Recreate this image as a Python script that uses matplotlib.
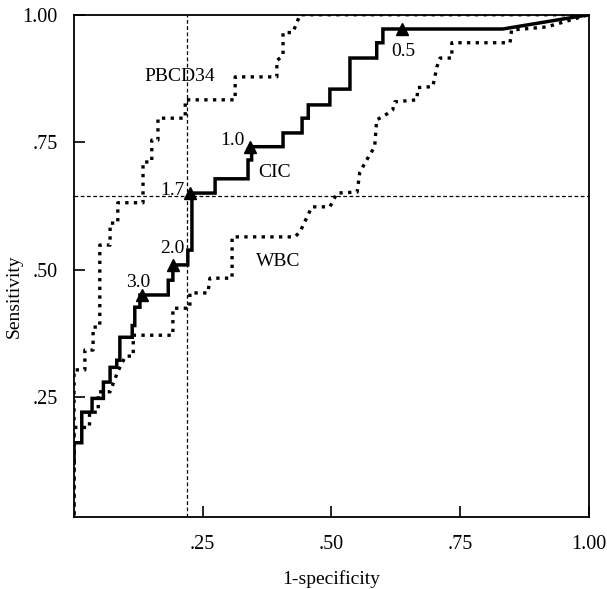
import numpy as np
import matplotlib
matplotlib.use("Agg")
import matplotlib.pyplot as plt

plt.rcParams['font.family'] = ['Liberation Serif', 'DejaVu Serif']

# Curvas ROC (1-especificidade, sensibilidade).
cic_x = [0, 0, 0.015, 0.015, 0.035, 0.035, 0.057, 0.057, 0.07, 0.07, 0.083, 0.083,
         0.089, 0.089, 0.113, 0.113, 0.118, 0.118, 0.128, 0.128, 0.183, 0.183,
         0.192, 0.192, 0.221, 0.221, 0.229, 0.229, 0.274, 0.274, 0.338, 0.338,
         0.345, 0.345, 0.406, 0.406, 0.443, 0.443, 0.455, 0.455, 0.497, 0.497,
         0.536, 0.536, 0.588, 0.588, 0.600, 0.600, 0.833, 1.0]
cic_y = [0.12, 0.16, 0.16, 0.22, 0.22, 0.247, 0.247, 0.279, 0.279, 0.308, 0.308, 0.322,
         0.322, 0.367, 0.367, 0.39, 0.39, 0.426, 0.426, 0.45, 0.45, 0.479,
         0.479, 0.509, 0.509, 0.538, 0.538, 0.65, 0.65, 0.678, 0.678, 0.715,
         0.715, 0.741, 0.741, 0.768, 0.768, 0.797, 0.797, 0.823, 0.823, 0.854,
         0.854, 0.915, 0.915, 0.945, 0.945, 0.972, 0.972, 1.0]

pbcd_x = [0, 0, 0.021, 0.021, 0.037, 0.037, 0.05, 0.05, 0.07, 0.07, 0.085, 0.085,
          0.134, 0.134, 0.151, 0.151, 0.163, 0.163, 0.216, 0.216, 0.313, 0.313,
          0.394, 0.394, 0.406, 0.406, 0.425, 0.439, 1.0]
pbcd_y = [0.0, 0.303, 0.303, 0.342, 0.342, 0.387, 0.387, 0.548, 0.548, 0.591, 0.591, 0.631,
          0.631, 0.711, 0.711, 0.754, 0.754, 0.797, 0.797, 0.833, 0.833, 0.878,
          0.878, 0.91, 0.92, 0.965, 0.965, 1.0, 1.0]

wbc_x = [0, 0, 0.03, 0.03, 0.047, 0.047, 0.07, 0.085, 0.1, 0.115, 0.115, 0.192,
         0.192, 0.225, 0.225, 0.26, 0.264, 0.307, 0.307, 0.429, 0.439, 0.462,
         0.497, 0.511, 0.55, 0.555, 0.565, 0.584, 0.588, 0.6, 0.619, 0.623,
         0.666, 0.668, 0.697, 0.705, 0.711, 0.734, 0.734, 0.847, 0.85, 0.918, 1.0]
wbc_y = [0.02, 0.19, 0.19, 0.22, 0.22, 0.26, 0.26, 0.30, 0.33, 0.33, 0.371, 0.371,
         0.424, 0.424, 0.454, 0.454, 0.483, 0.483, 0.564, 0.564, 0.574, 0.623,
         0.623, 0.65, 0.652, 0.69, 0.709, 0.741, 0.794, 0.80, 0.813, 0.829,
         0.833, 0.857, 0.859, 0.898, 0.915, 0.915, 0.945, 0.945, 0.97, 0.976, 1.0]

# Pontos de corte do CIC.
cut_labels = ["3.0", "2.0", "1.7", "1.0", "0.5"]
cut_x = [0.132, 0.192, 0.225, 0.342, 0.637]
cut_y = [0.45, 0.509, 0.65, 0.741, 0.972]

ref_x = 0.22
ref_y = 0.645

xticks = [0.25, 0.50, 0.75, 1.00]
xtick_labels = [".25", ".50", ".75", "1.00"]
yticks = [0.25, 0.50, 0.75, 1.00]
ytick_labels = [".25", ".50", ".75", "1.00"]

fig = plt.figure(figsize=(6.07, 5.89), dpi=100)
ax = fig.add_axes([0.122, 0.122, 0.848, 0.853])

ax.axhline(ref_y, color='k', lw=0.9, linestyle=(0, (3, 2)))
ax.axvline(ref_x, color='k', lw=0.9, linestyle=(0, (3, 2)))

ax.plot(pbcd_x, pbcd_y, color='k', lw=2.4, linestyle=(0, (1, 1.6)))
ax.plot(wbc_x, wbc_y, color='k', lw=2.4, linestyle=(0, (1, 1.6)))
ax.plot(cic_x, cic_y, color='k', lw=2.5, solid_joinstyle='miter')
ax.plot(cut_x, cut_y, linestyle='', marker='^', color='k', markersize=9)

# Rótulos dos pontos de corte.
lab_dx = [-0.008, -0.002, -0.033, -0.035, 0.002]
lab_dy = [0.025, 0.033, 0.006, 0.013, -0.045]
for lab, x, y, dx, dy in zip(cut_labels, cut_x, cut_y, lab_dx, lab_dy):
  ax.text(x + dx, y + dy, lab, fontsize=14, ha='center', va='center')

ax.text(0.206, 0.878, "PBCD34", fontsize=14, ha='center', va='center')
ax.text(0.39, 0.69, "CIC", fontsize=14, ha='center', va='center')
ax.text(0.396, 0.515, "WBC", fontsize=14, ha='center', va='center')

ax.set_xlim(0, 1.0)
ax.set_ylim(0.014, 1.0)
ax.set_xticks(xticks)
ax.set_xticklabels(xtick_labels)
ax.set_yticks(yticks)
ax.set_yticklabels(ytick_labels)
ax.tick_params(direction='in', length=8, width=1.2, labelsize=14.5)
ax.tick_params(axis='x', pad=13)
ax.tick_params(axis='y', pad=12)
for s in ax.spines.values():
  s.set_linewidth(1.3)

ax.set_xlabel("1-specificity", fontsize=14)
ax.set_ylabel("Sensitivity", fontsize=14)
ax.xaxis.set_label_coords(0.5, -0.105)
ax.yaxis.set_label_coords(-0.1, 0.44)

fig.savefig("out.png", dpi=100)
